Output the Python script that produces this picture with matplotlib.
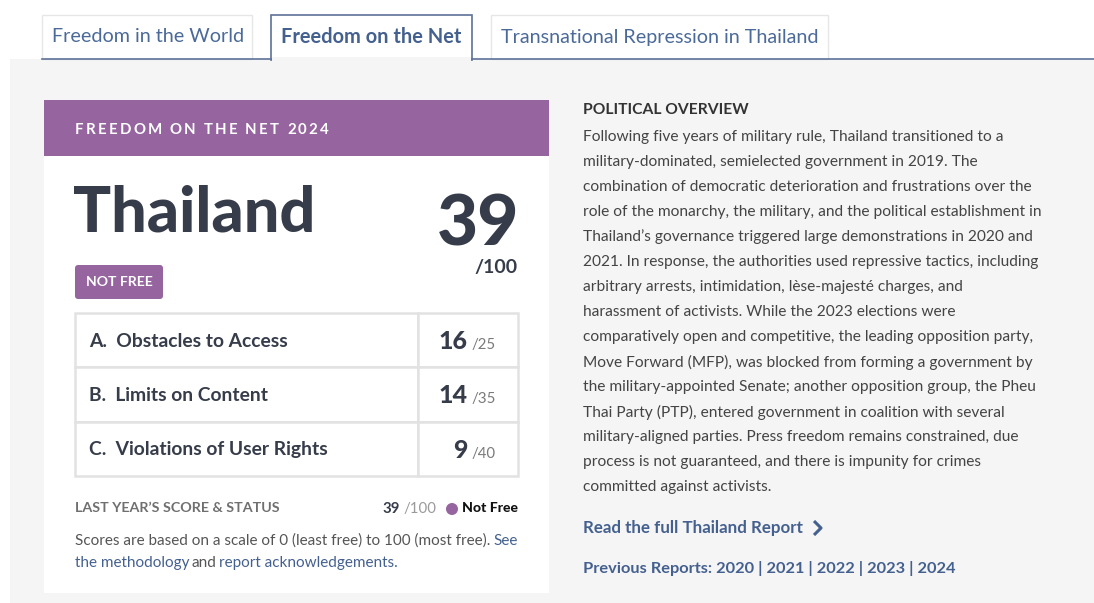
import matplotlib.pyplot as plt
from matplotlib.patches import Rectangle, FancyBboxPatch, Circle

tabs = ["Freedom in the World", "Freedom on the Net", "Transnational Repression in Thailand"]
active_tab = 1
header = "FREEDOM ON THE NET 2024"
country = "Thailand"
total_score = 39
total_max = 100
status = "NOT FREE"
categories = ["A.  Obstacles to Access", "B.  Limits on Content", "C.  Violations of User Rights"]
scores = [16, 14, 9]
max_scores = [25, 35, 40]
last_year_score = 39
last_year_status = "Not Free"
overview_title = "POLITICAL OVERVIEW"
overview_lines = [
    "Following five years of military rule, Thailand transitioned to a",
    "military-dominated, semielected government in 2019. The",
    "combination of democratic deterioration and frustrations over the",
    "role of the monarchy, the military, and the political establishment in",
    "Thailand\u2019s governance triggered large demonstrations in 2020 and",
    "2021. In response, the authorities used repressive tactics, including",
    "arbitrary arrests, intimidation, l\u00e8se-majest\u00e9 charges, and",
    "harassment of activists. While the 2023 elections were",
    "comparatively open and competitive, the leading opposition party,",
    "Move Forward (MFP), was blocked from forming a government by",
    "the military-appointed Senate; another opposition group, the Pheu",
    "Thai Party (PTP), entered government in coalition with several",
    "military-aligned parties. Press freedom remains constrained, due",
    "process is not guaranteed, and there is impunity for crimes",
    "committed against activists.",
]
previous_years = [2020, 2021, 2022, 2023, 2024]

PURPLE = "#96649f"
DARK = "#363c4a"
BLUE = "#44608f"
BORDER = "#e2e2e2"
GRAY_BG = "#f5f5f5"
LINE = "#5d7198"

plt.rcParams['font.family'] = ['Lato', 'DejaVu Sans']

fig = plt.figure(figsize=(10.94, 6.03), dpi=100)
ax = fig.add_axes([0, 0, 1, 1])
ax.set_xlim(0, 1094)
ax.set_ylim(603, 0)
ax.axis('off')
renderer = fig.canvas.get_renderer()


def px(s):
    return s * 0.72


def text_width(s, **kw):
    t = ax.text(0, 0, s, **kw)
    w = t.get_window_extent(renderer).width
    t.remove()
    return w


def tracked_text(x, y, s, tracking, **kw):
    # draw a string letter by letter with extra spacing between letters
    ref = text_width("I", **kw)
    for i, ch in enumerate(s):
        if ch == " ":
            continue
        offset = text_width(s[:i] + "I", **kw) - ref if i else 0
        ax.text(x + offset + i * tracking, y, ch, ha='left', **kw)


# background panel
ax.add_patch(Rectangle((10, 59), 1084, 544, facecolor=GRAY_BG, edgecolor='none'))

# tabs
tab_x = [(42, 252), (271, 472), (491, 828)]
for i, (name, (x0, x1)) in enumerate(zip(tabs, tab_x)):
    if i == active_tab:
        ax.add_patch(Rectangle((x0, 15), x1 - x0, 45, facecolor='white', edgecolor=LINE, lw=1.2, zorder=3))
        ax.add_patch(Rectangle((x0 + 0.8, 57), x1 - x0 - 1.6, 4, facecolor=GRAY_BG, edgecolor='none', zorder=4))
        ax.text(x0 + 10, 37, name, fontsize=px(20), fontweight='bold', color=BLUE, ha='left', va='center', zorder=5)
    else:
        ax.add_patch(Rectangle((x0, 15), x1 - x0, 44, facecolor='white', edgecolor='#e6e6e6', lw=1, zorder=2))
        ax.text(x0 + 10, 37, name, fontsize=px(19.8), color='#4b6a99', ha='left', va='center', zorder=5)
ax.plot([42, 271], [59, 59], color=LINE, lw=1.2, zorder=3)
ax.plot([472, 1094], [59, 59], color=LINE, lw=1.2, zorder=3)

# card
ax.add_patch(Rectangle((44, 100), 505, 493, facecolor='white', edgecolor='none'))
ax.add_patch(Rectangle((44, 100), 505, 56, facecolor=PURPLE, edgecolor='none'))
tracked_text(75, 130, header, 2.2, fontsize=px(15), fontweight='bold', color='white', va='center')

ax.text(73, 232, country, fontsize=px(63), fontweight='black', color=DARK, va='baseline', ha='left')
ax.text(519, 246, str(total_score), fontsize=px(71), fontweight='black', color=DARK, va='baseline', ha='right')
ax.text(518, 273, f"/{total_max}", fontsize=px(19.5), fontweight='bold', color=DARK, va='baseline', ha='right')

ax.add_patch(FancyBboxPatch((75, 265), 88, 34, boxstyle="round,pad=0,rounding_size=3", facecolor=PURPLE, edgecolor='none'))
ax.text(119, 282.5, status, fontsize=px(14), fontweight='bold', color='white', ha='center', va='center')

# table
row_top = 313
row_h = 54.3
for i, (cat, sc, mx) in enumerate(zip(categories, scores, max_scores)):
    y0 = row_top + i * row_h
    ax.add_patch(Rectangle((75, y0), 343, row_h, facecolor='white', edgecolor=BORDER, lw=1.8))
    ax.add_patch(Rectangle((418, y0), 100, row_h, facecolor='white', edgecolor=BORDER, lw=1.8))
    ax.text(89, y0 + row_h / 2 + 1, cat, fontsize=px(19.3), fontweight='bold', color=DARK, ha='left', va='center')
    ax.text(468, y0 + row_h / 2 + 9, str(sc), fontsize=px(25), fontweight='black', color=DARK, ha='right', va='baseline')
    ax.text(472, y0 + row_h / 2 + 9, f"/{mx}", fontsize=px(15), color='#7a7a7a', ha='left', va='baseline')

# last year
ax.text(75, 508, "LAST YEAR\u2019S SCORE & STATUS", fontsize=px(14.3), fontweight='bold', color='#6f6f6f', ha='left', va='center')
ax.text(400, 513, str(last_year_score), fontsize=px(15), fontweight='bold', color=DARK, ha='right', va='baseline')
ax.text(403, 513, f"/{total_max}", fontsize=px(15), color='#9a9a9a', ha='left', va='baseline')
ax.add_patch(Circle((452, 509), 6, facecolor=PURPLE, edgecolor='none'))
ax.text(518, 508, last_year_status, fontsize=px(14), fontweight='black', color='#111111', ha='right', va='center')

ax.text(75, 541, "Scores are based on a scale of 0 (least free) to 100 (most free).", fontsize=px(15.3),
        color='#555555', ha='left', va='center')
ax.text(518, 541, "See", fontsize=px(15.3), color=BLUE, ha='right', va='center')
ax.text(75, 563, "the methodology", fontsize=px(15.3), color=BLUE, ha='left', va='center')
ax.text(191, 563, "and", fontsize=px(15.3), color='#555555', ha='left', va='center')
ax.text(219, 563, "report acknowledgements.", fontsize=px(15.3), color=BLUE, ha='left', va='center')

# political overview
ax.text(583, 110, overview_title, fontsize=px(15.6), fontweight='bold', color='#333333', ha='left', va='center')
for i, line in enumerate(overview_lines):
    ax.text(583, 137 + i * 25, line, fontsize=px(15.5), color='#444444', ha='left', va='center')

ax.text(583, 528, "Read the full Thailand Report", fontsize=px(16.9), fontweight='bold', color=BLUE, ha='left', va='center')
ax.plot([814, 821, 814], [521, 528, 535], color=BLUE, lw=2.2, solid_capstyle='butt')
ax.text(583, 568, "Previous Reports: " + " | ".join(str(y) for y in previous_years), fontsize=px(16.4),
        fontweight='bold', color=BLUE, ha='left', va='center')

fig.savefig('out.png', dpi=100)
